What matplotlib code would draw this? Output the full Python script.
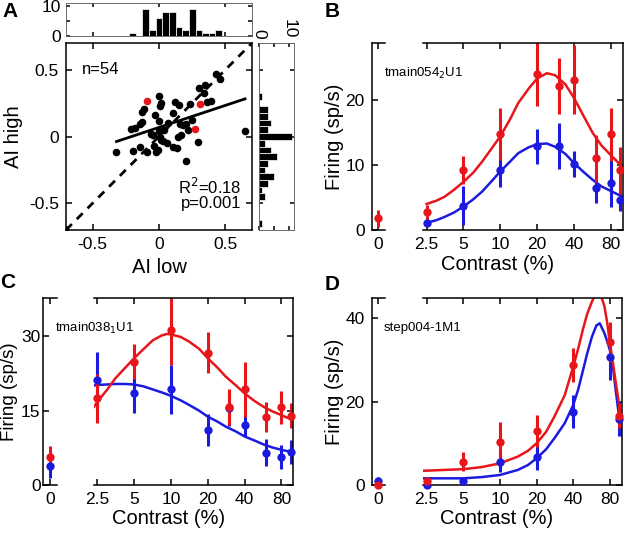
import numpy as np
import matplotlib
matplotlib.use("Agg")
import matplotlib.pyplot as plt
from matplotlib.ticker import FixedLocator, FixedFormatter, NullLocator

plt.rcParams['font.family'] = ['Liberation Sans', 'DejaVu Sans']

RED = '#e8161b'
BLUE = '#1b1be0'

# ---- panel A: adaptation index, low vs high contrast ----
ai_low = [0.43, 0.4625, 0.2975, 0.3475, 0.3375, 0.36, 0.3925, 0.235, 0.1175, 0.1475,
          0.1075, 0.0, 0.0175, 0.01, -0.1125, -0.1275, -0.0325, 0.0, -0.125, -0.145,
          -0.1775, -0.2125, -0.0575, -0.045, 0.035, 0.01, 0.0175, 0.155, 0.18, 0.2,
          0.1425, 0.1675, 0.2175, 0.2925, -0.0075, -0.02, 0.105, 0.1375, 0.2, -0.0925,
          -0.14, -0.195, -0.32, 0.6475, -0.71, 0.0, 0.03, -0.04, 0.07, 0.25, 0.06]
ai_high = [0.4675, 0.43, 0.3625, 0.3875, 0.325, 0.2575, 0.2625, 0.2425, 0.255, 0.2375,
           0.175, 0.305, 0.25, 0.225, 0.205, 0.185, 0.1625, 0.1125, 0.105, 0.0925,
           0.0625, 0.055, 0.0175, 0.0075, 0.05, 0.0, -0.025, 0.0925, 0.0875, 0.0925,
           0.0, 0.0075, 0.05, -0.0375, -0.1, -0.115, -0.08, -0.0875, -0.18, -0.1125,
           -0.075, -0.1075, -0.1125, 0.0375, -0.69, 0.04, -0.03, -0.07, 0.1, 0.12, -0.05]
# example cells (shown in B-D)
ai_low_ex = [-0.0925, 0.3075, 0.2675]
ai_high_ex = [0.2675, 0.2425, 0.0525]

fit_slope = 0.33
fit_intercept = 0.068

# marginal histograms (bin width 0.05)
low_bin_start = -0.225
low_counts = [1, 0, 9, 2, 6, 8, 8, 3, 2, 9, 2, 1, 1, 2]
high_bin_centers = [0.30, 0.25, 0.20, 0.15, 0.10, 0.05, 0.0, -0.05, -0.10, -0.15,
                    -0.20, -0.25, -0.30, -0.35, -0.40, -0.45, -0.65]
high_counts = [1, 0, 3, 3, 4, 3, 11, 2, 4, 6, 3, 2, 5, 3, 1, 2, 1]
bin_w = 0.05

# ---- panels B-D: contrast response ----
contrast_ticks = [2.5, 5, 10, 20, 40, 80]

b_contrast = [0, 2.5, 5, 10, 20, 30, 40, 60, 80, 95]
b_red = [1.8, 2.7, 9.2, 14.8, 24.0, 22.1, 23.1, 11.0, 14.7, 9.2]
b_red_err = [1.3, 1.2, 2.2, 4.0, 5.0, 4.3, 5.3, 3.6, 4.1, 3.6]
b_blue = [np.nan, 1.0, 3.7, 9.2, 12.9, 12.9, 10.2, 6.4, 7.3, 4.6]
b_blue_err = [0.0, 0.3, 3.0, 2.6, 2.7, 3.5, 2.0, 2.3, 3.7, 1.7]
b_fit_x = [2.5, 3, 3.5, 4.2, 5, 6, 7.1, 8.4, 10, 12, 14, 17, 20, 24, 28, 34, 40, 48,
           57, 67, 80, 95, 100]
b_fit_red = [4.0, 4.5, 5.1, 6.2, 7.4, 8.8, 10.5, 12.4, 14.4, 17.0, 19.5, 21.7, 23.3,
             24.1, 23.8, 22.4, 20.3, 17.5, 14.9, 13.0, 11.5, 10.1, 9.8]
b_fit_blue = [1.1, 1.5, 2.0, 2.7, 3.6, 4.7, 5.9, 7.4, 9.0, 10.5, 11.8, 12.7, 13.2,
              13.3, 12.8, 11.7, 10.3, 8.9, 7.7, 6.7, 6.0, 5.3, 5.1]

c_contrast = [0, 2.5, 5, 10, 20, 30, 40, 60, 80, 95]
c_red = [5.6, 17.5, 24.9, 31.3, 26.7, 15.7, 19.3, 13.8, 15.7, 14.0]
c_red_err = [2.3, 4.9, 3.5, 7.0, 4.1, 3.6, 5.5, 3.0, 3.3, 2.5]
c_blue = [3.8, 21.2, 18.5, 19.3, 11.1, 15.5, 12.1, 6.5, 5.7, 6.6]
c_blue_err = [2.3, 5.7, 3.9, 5.0, 3.2, 3.5, 2.2, 2.7, 2.4, 2.4]
c_fit_x = [2.35, 2.5, 3, 3.5, 4.2, 5, 6, 7.1, 8.4, 9.3, 10, 12, 14, 17, 20, 24, 28,
           34, 40, 48, 57, 67, 80, 95, 100]
c_fit_red = [15.8, 16.8, 19.2, 21.5, 23.6, 25.6, 27.5, 29.2, 30.2, 30.5, 30.4, 29.9,
             29.0, 27.5, 25.6, 23.7, 21.9, 20.1, 18.5, 17.0, 15.8, 14.9, 14.1, 13.3, 13.1]
c_fit_blue = [20.1, 20.2, 20.3, 20.4, 20.4, 20.3, 19.9, 19.3, 18.7, 18.3, 18.0, 17.1,
              16.2, 15.0, 13.8, 12.8, 11.8, 10.8, 9.8, 9.0, 8.2, 7.6, 7.1, 6.7, 6.6]

d_contrast = [0, 2.5, 5, 10, 20, 40, 80, 95]
d_red = [0.0, 1.0, 5.6, 10.2, 13.0, 28.8, 34.2, 16.6]
d_red_err = [0.3, 0.3, 2.2, 5.0, 3.9, 4.0, 4.8, 3.0]
d_blue = [1.0, 0.0, 1.0, 5.6, 6.6, 17.6, 30.6, 15.8]
d_blue_err = [0.8, 0.3, 0.3, 2.5, 3.0, 4.0, 5.5, 4.0]
d_fit_x = [2.3, 5, 7.1, 10, 14, 17, 20, 24, 28, 34, 40, 44, 48, 52, 57, 62, 66, 72,
           76, 80, 85, 90, 95, 100]
d_fit_red = [3.4, 3.8, 4.3, 5.2, 6.8, 8.2, 10.0, 12.8, 16.4, 21.5, 28.4, 32.8, 37.3,
             41.0, 44.0, 46.2, 46.3, 43.0, 39.0, 34.0, 29.0, 24.0, 19.5, 15.6]
d_fit_blue = [1.6, 1.6, 1.9, 2.4, 3.6, 4.8, 6.4, 8.6, 11.2, 14.8, 19.2, 23.0, 27.4,
              31.5, 35.6, 38.3, 38.8, 36.5, 34.5, 32.4, 28.0, 22.0, 16.5, 12.0]

W, H = 624, 536
fig = plt.figure(figsize=(W / 100, H / 100), dpi=100)


def add_ax(left, top, right, bottom):
    # pixel box -> figure fraction
    return fig.add_axes([left / W, 1 - bottom / H, (right - left) / W, (bottom - top) / H])


def style(ax, size=12.5):
    for s in ax.spines.values():
        s.set_linewidth(1.1)
    ax.tick_params(direction='in', length=4, width=1.1, labelsize=size)


# ---------------- A ----------------
ax = add_ax(66, 43, 252, 230)
style(ax)
ax.set_xlim(-0.7, 0.7)
ax.set_ylim(-0.7, 0.7)
ax.plot([-0.7, 0.7], [-0.7, 0.7], 'k--', lw=2, dashes=(3, 2.5))
ax.scatter(ai_low, ai_high, s=30, c='k', zorder=3, linewidths=0)
ax.scatter(ai_low_ex, ai_high_ex, s=30, c=RED, zorder=4, linewidths=0)
xr = np.array([min(ai_low[:44]), max(ai_low)])
ax.plot(xr, fit_slope * xr + fit_intercept, 'k-', lw=2)
ax.set_xticks([-0.5, 0, 0.5])
ax.set_xticklabels(['-0.5', '0', '0.5'])
ax.set_yticks([-0.5, 0, 0.5])
ax.set_yticklabels(['-0.5', '0', '0.5'])
ax.tick_params(top=True, right=True, pad=5)
ax.set_xlabel('AI low', fontsize=14.5, labelpad=4)
ax.set_ylabel('AI high', fontsize=14.5, labelpad=4)
ax.text(-0.58, 0.5, 'n=54', fontsize=12, va='center')
ax.text(0.62, -0.375, 'R$^2$=0.18', fontsize=12, ha='right', va='center')
ax.text(0.62, -0.5, 'p=0.001', fontsize=12, ha='right', va='center')

# top histogram
axt = add_ax(66, 3, 252, 36)
style(axt)
edges = low_bin_start + bin_w * np.arange(len(low_counts))
axt.bar(edges, low_counts, width=bin_w, align='edge', color='k', edgecolor='white', linewidth=0.5)
axt.set_xlim(-0.7, 0.7)
axt.set_ylim(0, 11)
axt.set_xticks([-0.5, 0, 0.5])
axt.set_xticklabels([])
axt.set_yticks([0, 5, 10])
axt.set_yticklabels(['0', '', '10'])
axt.tick_params(top=True, right=True, length=3)
for s in axt.spines.values():
    s.set_linewidth(0.6)
    s.set_color('#555555')

# right histogram
axr = add_ax(259, 43, 294, 230)
style(axr)
axr.barh(high_bin_centers, high_counts, height=bin_w, color='k', edgecolor='white', linewidth=0.5)
axr.set_ylim(-0.7, 0.7)
axr.set_xlim(0, 11.7)
axr.set_yticks([-0.5, 0, 0.5])
axr.set_yticklabels([])
axr.set_xticks([0, 5, 10])
axr.set_xticklabels(['0', '', '10'], rotation=-90)
axr.tick_params(top=True, right=True, bottom=True, labeltop=True, labelbottom=False, length=3)
for s in axr.spines.values():
    s.set_linewidth(0.6)
    s.set_color('#555555')


# ---------------- B-D ----------------
def contrast_panel(top, bottom, left0, left_main, right, ylim, yticks, tag, ylab_x,
                   cont, red, red_err, blue, blue_err, fit_x, fit_red, fit_blue,
                   ylab_size=14.5, ypad=5):
    a0 = add_ax(left0, top, left0 + 13.3, bottom)
    am = add_ax(left_main, top, right, bottom)
    for a in (a0, am):
        style(a)
        a.set_ylim(*ylim)
        a.set_yticks(yticks)
    a0.spines['right'].set_visible(False)
    am.spines['left'].set_visible(False)
    a0.set_xlim(-1, 1)
    a0.set_xticks([0])
    a0.set_xticklabels(['0'])
    a0.tick_params(top=True, pad=5)
    a0.tick_params(axis='y', pad=ypad)
    am.set_xscale('log', base=2)
    am.set_xlim(2.35, 100)
    am.xaxis.set_major_locator(FixedLocator(contrast_ticks))
    am.xaxis.set_major_formatter(FixedFormatter([str(c) for c in contrast_ticks]))
    am.xaxis.set_minor_locator(NullLocator())
    am.tick_params(top=True, left=False, right=True, labelleft=False, pad=5)

    cont = np.array(cont, dtype=float)
    zero = cont == 0
    am.plot(fit_x, fit_blue, color=BLUE, lw=1.8)
    am.plot(fit_x, fit_red, color=RED, lw=1.8)
    for a, m in ((a0, zero), (am, ~zero)):
        x = cont[m]
        for y, e, col in ((blue, blue_err, BLUE), (red, red_err, RED)):
            a.errorbar(x, np.array(y)[m], yerr=np.array(e)[m], fmt='none',
                       ecolor=col, elinewidth=2.2)
        for y, col in ((blue, BLUE), (red, RED)):
            a.plot(x, np.array(y)[m], 'o', color=col, ms=6, mec='none', clip_on=False, zorder=4)

    ymid = 1 - (top + bottom) / 2 / H
    fig.text(ylab_x / W, ymid, 'Firing (sp/s)', fontsize=ylab_size, rotation=90,
             ha='center', va='center')
    xmid = (left0 + right) / 2
    fig.text(xmid / W, 1 - (bottom + 34) / H, 'Contrast (%)', fontsize=14.5,
             ha='center', va='center')
    fig.text((left0 + 12) / W, 1 - (top + 30) / H, tag, fontsize=9.5, ha='left', va='center')


contrast_panel(43.3, 230, 371.7, 423.3, 622.7, (0, 28.7), [0, 10, 20], 'tmain054$_2$U1', 334,
               b_contrast, b_red, b_red_err, b_blue, b_blue_err,
               b_fit_x, b_fit_red, b_fit_blue)
contrast_panel(298.3, 485, 43.3, 94, 293.3, (0, 37.7), [0, 15, 30], 'tmain038$_1$U1', 9.5,
               c_contrast, c_red, c_red_err, c_blue, c_blue_err,
               c_fit_x, c_fit_red, c_fit_blue, ylab_size=13.5, ypad=2)
contrast_panel(298.3, 485, 371.7, 423.3, 621.7, (0, 44.8), [0, 20, 40], 'step004-1M1', 334,
               d_contrast, d_red, d_red_err, d_blue, d_blue_err,
               d_fit_x, d_fit_red, d_fit_blue)

# panel letters
for letter, x, y in (('A', 2, 2), ('B', 325, 2), ('C', 0, 273), ('D', 325, 275)):
    fig.text(x / W, 1 - y / H, letter, fontsize=15, fontweight='bold', ha='left', va='top')

fig.savefig('out.png', dpi=100)
